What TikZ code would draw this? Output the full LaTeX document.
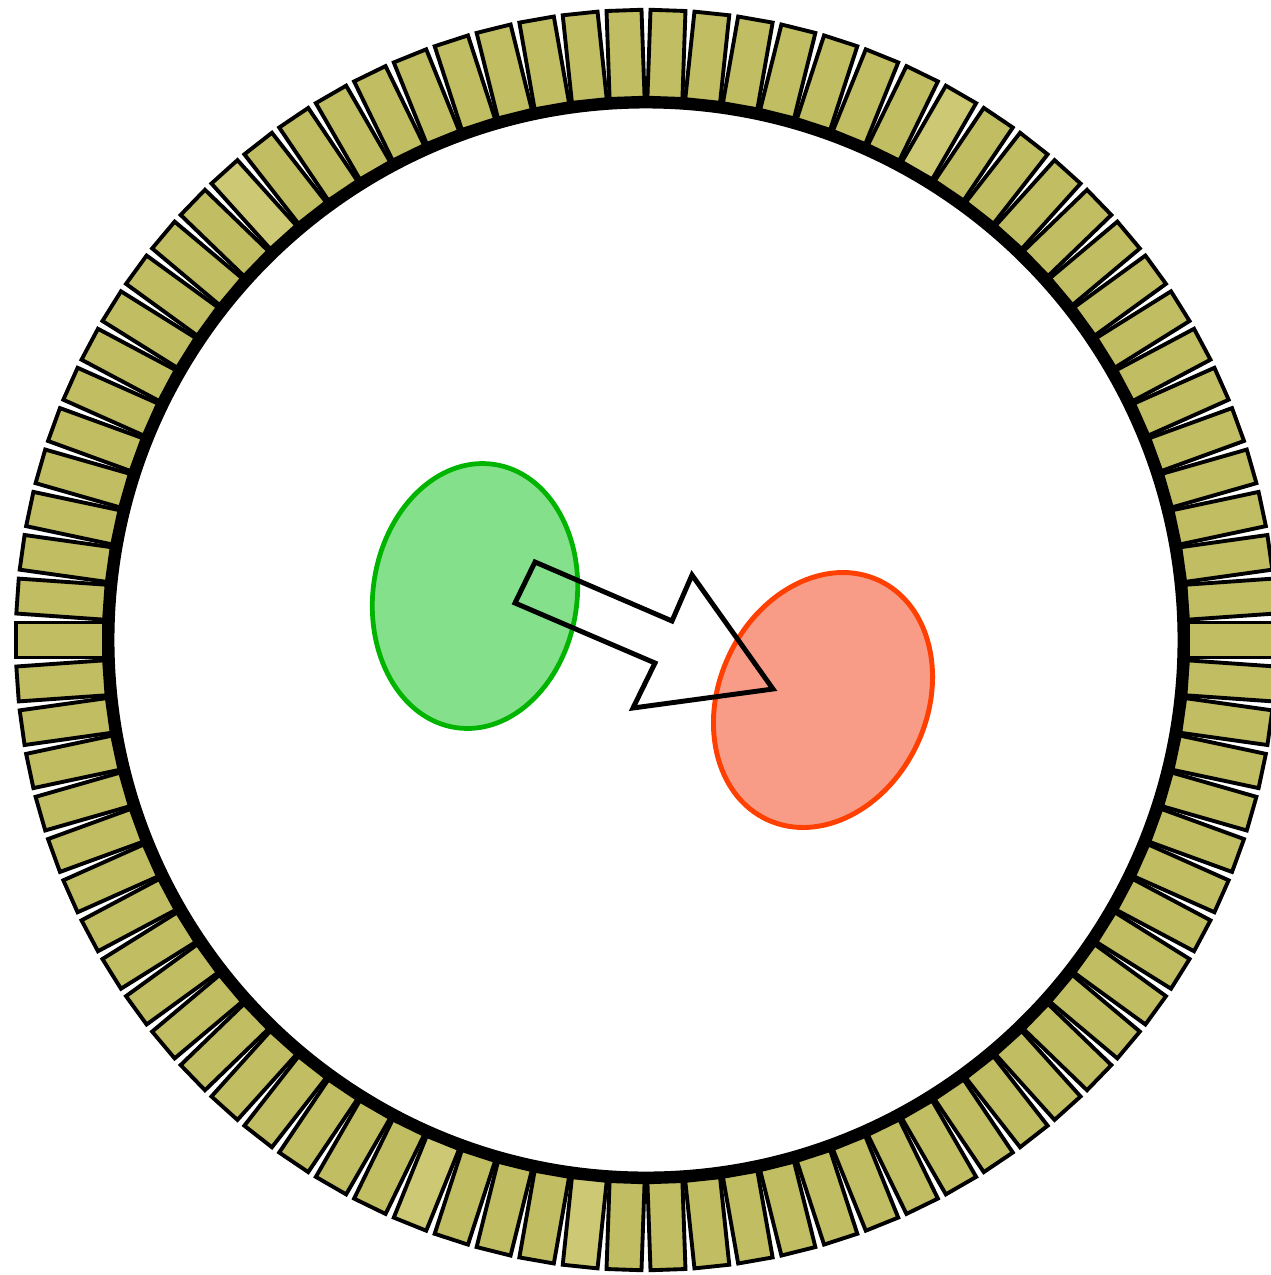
\documentclass[tikz,border=0pt]{standalone}
\usetikzlibrary{calc}
\definecolor{blockA}{RGB}{192,189,98}
\definecolor{blockB}{RGB}{205,200,115}
\definecolor{grfill}{RGB}{132,224,138}
\definecolor{grline}{RGB}{0,180,0}
\definecolor{rdfill}{RGB}{248,156,136}
\definecolor{rdline}{RGB}{255,64,0}
\tikzset{
  crystal/.style={draw=black, line width=1.1pt, line join=miter},
  ring/.style={draw=black, line width=3.1pt},
  greenblob/.style={draw=grline, fill=grfill, line width=1.35pt},
  redblob/.style={draw=rdline, fill=rdfill, line width=1.4pt},
  bigarrow/.style={draw=black, line width=1.4pt, line join=miter, miter limit=10}
}
\begin{document}
\begin{tikzpicture}[x=0.01cm,y=-0.01cm]
\clip (0,0) rectangle (1271,1275);
\fill[white] (0,0) rectangle (1271,1275);
\coordinate (c) at (646,640);
% detector crystals
\foreach \k in {0,...,89}{
  \def\fc{blockA}
  \ifnum\k=15 \def\fc{blockB}\fi
  \ifnum\k=33 \def\fc{blockB}\fi
  \ifnum\k=62 \def\fc{blockB}\fi
  \ifnum\k=66 \def\fc{blockB}\fi
  \begin{scope}[shift={(c)}, rotate=4*\k]
    \draw[crystal, fill=\fc] (542,-17.5) rectangle (630,17.5);
  \end{scope}
}
% ring
\draw[ring] (c) circle [radius=537];
% blobs
\draw[greenblob, rotate around={-8:(475,596)}] (475,596) ellipse [x radius=102, y radius=133];
\draw[redblob, rotate around={-25:(823,700)}] (823,700) ellipse [x radius=104, y radius=132];
% arrow
\coordinate (a1) at (535,562);
\coordinate (a2) at (515,603);
\coordinate (a3) at (655,663);
\coordinate (a4) at (633,708);
\coordinate (a5) at (773,689);
\coordinate (a6) at (692,575);
\coordinate (a7) at (672,621);
\draw[bigarrow] (a1) -- (a2) -- (a3) -- (a4) -- (a5) -- (a6) -- (a7) -- cycle;
\end{tikzpicture}
\end{document}
